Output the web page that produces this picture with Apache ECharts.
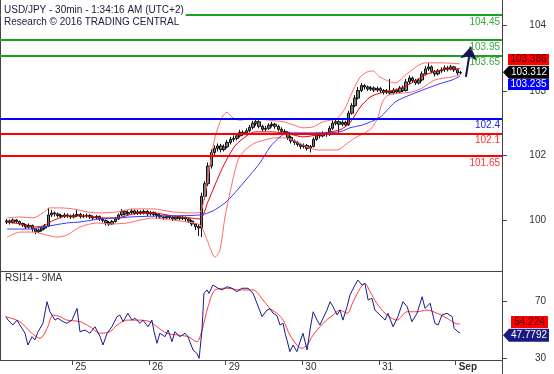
<!DOCTYPE html>
<html><head><meta charset="utf-8">
<script src="https://cdn.jsdelivr.net/npm/echarts@6/dist/echarts.min.js"></script>
<style>html,body{margin:0;padding:0;background:#fff}#c{width:554px;height:374px}</style>
</head><body><div id="c"></div>
<script>
// x unit: trading hours since 25 Aug 00:00 (UTC+2), weekend removed
const firstBarCenter = -20.5; // hourly bars
// [open, close, low, high]
const ohlc = [
[100.34,100.36,100.30,100.40],[100.36,100.33,100.29,100.39],[100.33,100.38,100.31,100.41],[100.38,100.35,100.32,100.40],
[100.35,100.31,100.27,100.37],[100.31,100.28,100.24,100.33],[100.28,100.24,100.20,100.30],[100.24,100.27,100.21,100.31],
[100.27,100.20,100.14,100.29],[100.20,100.15,100.10,100.22],[100.15,100.18,100.12,100.21],[100.18,100.22,100.15,100.25],
[100.22,100.26,100.19,100.30],[100.26,100.48,100.24,100.62],[100.48,100.52,100.44,100.58],[100.52,100.50,100.45,100.55],
[100.50,100.47,100.43,100.53],[100.47,100.45,100.41,100.50],[100.45,100.48,100.42,100.52],[100.48,100.46,100.42,100.51],
[100.46,100.44,100.40,100.49],[100.44,100.47,100.41,100.51],[100.47,100.49,100.44,100.58],[100.49,100.45,100.41,100.52],
[100.45,100.46,100.42,100.50],[100.46,100.47,100.42,100.51],[100.47,100.44,100.40,100.50],[100.44,100.42,100.38,100.47],
[100.42,100.45,100.39,100.48],[100.45,100.40,100.36,100.47],[100.40,100.37,100.33,100.43],[100.37,100.33,100.27,100.39],
[100.33,100.30,100.26,100.36],[100.30,100.35,100.28,100.38],[100.35,100.40,100.33,100.44],[100.40,100.48,100.38,100.51],
[100.48,100.55,100.45,100.60],[100.55,100.50,100.47,100.58],[100.50,100.53,100.47,100.57],[100.53,100.56,100.50,100.60],
[100.56,100.51,100.48,100.59],[100.51,100.54,100.48,100.58],[100.54,100.52,100.48,100.57],[100.52,100.55,100.49,100.59],
[100.55,100.50,100.46,100.58],[100.50,100.53,100.47,100.56],[100.53,100.49,100.45,100.55],[100.49,100.47,100.40,100.52],
[100.47,100.44,100.40,100.50],[100.44,100.42,100.38,100.47],[100.42,100.45,100.39,100.48],[100.45,100.43,100.39,100.48],
[100.43,100.40,100.36,100.46],[100.40,100.44,100.38,100.47],[100.44,100.41,100.37,100.46],[100.41,100.43,100.38,100.46],
[100.43,100.40,100.35,100.45],[100.40,100.36,100.32,100.43],[100.36,100.30,100.26,100.38],[100.30,100.25,100.18,100.32],
[100.25,100.22,100.06,100.30],[100.22,100.85,100.04,100.92],[100.85,101.10,100.78,101.15],[101.10,101.45,101.05,101.52],
[101.45,101.72,101.40,101.78],[101.72,101.80,101.66,101.86],[101.80,101.85,101.74,101.90],[101.85,101.78,101.72,101.89],
[101.78,101.83,101.74,101.88],[101.83,101.92,101.80,101.97],[101.92,101.98,101.88,102.03],[101.98,102.00,101.93,102.06],
[102.00,102.05,101.96,102.10],[102.05,102.12,102.02,102.17],[102.12,102.10,102.05,102.16],[102.10,102.15,102.06,102.20],
[102.15,102.22,102.12,102.27],[102.22,102.30,102.18,102.35],[102.30,102.33,102.25,102.40],[102.33,102.24,102.20,102.36],
[102.24,102.18,102.14,102.27],[102.18,102.20,102.14,102.25],[102.20,102.26,102.17,102.30],[102.26,102.28,102.22,102.33],
[102.28,102.24,102.19,102.31],[102.24,102.18,102.14,102.27],[102.18,102.14,102.10,102.22],[102.14,102.12,102.07,102.18],
[102.12,102.02,101.97,102.14],[102.02,101.95,101.90,102.05],[101.95,101.92,101.87,101.98],[101.92,101.88,101.84,101.95],
[101.88,101.84,101.79,101.91],[101.84,101.86,101.80,101.90],[101.86,101.80,101.76,101.89],[101.80,101.84,101.72,101.87],
[101.84,101.98,101.82,102.02],[101.98,102.08,101.95,102.12],[102.08,102.05,102.00,102.12],[102.05,102.10,102.02,102.14],
[102.10,102.08,102.03,102.13],[102.08,102.20,102.05,102.25],[102.20,102.30,102.17,102.36],[102.30,102.33,102.26,102.38],
[102.33,102.28,102.08,102.36],[102.28,102.32,102.24,102.36],[102.32,102.27,102.23,102.35],[102.27,102.50,102.25,102.55],
[102.50,102.65,102.47,102.70],[102.65,102.80,102.62,102.86],[102.80,102.95,102.77,103.02],[102.95,103.05,102.92,103.10],
[103.05,103.02,102.97,103.08],[103.02,102.98,102.94,103.05],[102.98,103.00,102.94,103.04],[103.00,102.96,102.92,103.03],
[102.96,102.99,102.92,103.03],[102.99,102.95,102.90,103.02],[102.95,102.92,102.87,102.98],[102.92,102.94,102.88,102.98],
[102.94,102.90,102.86,103.18],[102.90,102.96,102.87,103.00],[102.96,102.92,102.88,102.99],[102.92,103.00,102.90,103.04],
[103.00,102.95,102.92,103.05],[102.95,103.12,102.93,103.18],[103.12,103.20,103.08,103.25],[103.20,103.15,103.10,103.23],
[103.15,103.10,103.06,103.18],[103.10,103.16,103.07,103.20],[103.16,103.28,103.13,103.33],[103.28,103.38,103.25,103.44],
[103.38,103.42,103.34,103.50],[103.42,103.33,103.29,103.45],[103.33,103.28,103.23,103.36],[103.28,103.34,103.25,103.38],
[103.34,103.36,103.30,103.41],[103.36,103.40,103.32,103.45],[103.40,103.38,103.33,103.44],[103.38,103.42,103.35,103.46],
[103.42,103.36,103.32,103.44],[103.36,103.30,103.26,103.38],[103.30,103.31,103.27,103.34]
];
const bbUpper = [[-20.4,100.42],[-16.4,100.44],[-12.3,100.42],[-9.2,100.52],[-7.0,100.62],[-3.8,100.62],[0.2,100.60],[4.6,100.54],[8.7,100.52],[14.0,100.54],[19.0,100.60],[25.3,100.60],[31.5,100.54],[36.8,100.52],[40.0,100.54],[41.5,100.88],[43.1,101.47],[44.7,102.03],[46.9,102.42],[48.4,102.52],[50.0,102.42],[52.5,102.36],[55.6,102.40],[61.9,102.36],[66.0,102.33],[69.1,102.27],[72.2,102.21],[75.4,102.23],[78.5,102.33],[82.9,102.40],[85.4,102.60],[86.9,102.82],[90.1,103.22],[92.3,103.32],[94.1,103.34],[96.3,103.22],[101.0,103.10],[105.1,103.30],[110.4,103.50],[115.7,103.50],[121.4,103.48]];
const bbMid = [[-20.4,100.34],[-16.4,100.30],[-12.3,100.24],[-9.2,100.26],[-7.0,100.34],[-1.7,100.46],[4.6,100.46],[8.7,100.42],[14.0,100.42],[19.0,100.50],[25.3,100.52],[31.5,100.46],[36.8,100.42],[40.0,100.40],[42.5,100.75],[46.9,101.40],[50.9,101.85],[55.0,102.07],[57.2,102.13],[61.9,102.13],[66.0,102.11],[69.1,102.07],[72.2,102.03],[76.6,102.07],[80.7,102.13],[83.8,102.17],[86.9,102.31],[90.1,102.62],[93.2,102.82],[96.3,102.90],[101.0,102.96],[105.1,103.06],[110.4,103.26],[115.7,103.36],[121.4,103.386]];
const bbLower = [[-20.4,100.04],[-16.4,100.14],[-12.3,100.14],[-7.9,100.08],[-4.8,100.04],[-1.7,100.08],[2.4,100.24],[7.7,100.32],[11.8,100.30],[17.1,100.32],[25.3,100.42],[31.5,100.38],[35.9,100.34],[40.0,100.28],[42.2,99.98],[44.7,99.64],[46.2,99.78],[47.8,100.44],[50.0,101.11],[51.9,101.57],[54.1,101.77],[57.2,101.91],[60.3,101.97],[63.4,102.01],[66.6,102.01],[69.7,101.95],[72.2,101.87],[76.6,101.77],[82.9,101.77],[85.4,101.87],[88.5,102.01],[91.6,102.11],[93.8,102.21],[95.7,102.42],[96.9,102.70],[98.8,102.86],[103.2,102.90],[106.3,102.92],[109.5,103.00],[113.5,103.16],[118.9,103.22],[121.4,103.26]];
const trendMA = [[-20.4,100.20],[-13.2,100.20],[-9.2,100.24],[-1.7,100.32],[2.4,100.34],[8.7,100.40],[14.9,100.42],[18.1,100.44],[27.4,100.46],[40.0,100.48],[44.0,100.56],[47.8,100.72],[50.9,100.92],[55.6,101.27],[58.7,101.51],[61.9,101.83],[65.0,102.03],[67.2,102.11],[71.3,102.11],[76.6,102.11],[83.8,102.13],[86.9,102.21],[91.0,102.27],[96.3,102.42],[101.0,102.72],[104.1,102.82],[107.2,102.90],[111.3,103.00],[115.7,103.10],[118.9,103.16],[121.4,103.235]];
const rsi14 = [[-20.8,59.4],[-20.1,57],[-18.6,53.5],[-17.3,57],[-16.4,53.5],[-14.8,47.7],[-13.9,39.4],[-12.6,45.3],[-11.7,43],[-10.7,48.8],[-9.2,54.7],[-7.9,70],[-7.0,62.9],[-5.4,57],[-4.5,58.3],[-2.9,55.9],[-1.7,54.7],[-0.1,57],[1.5,65.3],[2.4,48.8],[4.0,50],[5.5,47.7],[7.1,52.3],[8.7,45.3],[9.6,39.4],[10.9,47.7],[12.4,52.3],[14.0,59.4],[14.9,60.6],[15.9,55.9],[17.4,61.8],[18.7,57],[19.6,58.3],[21.2,54.7],[22.1,57],[23.7,52.3],[24.9,57],[25.6,48.8],[26.5,40.6],[27.4,47.7],[29.0,45.3],[30.0,50],[31.2,41.7],[32.1,48.8],[33.7,45.3],[35.3,47.7],[36.2,45.3],[37.8,35.9],[39.0,33.5],[39.7,30],[40.6,50],[41.2,75.9],[42.2,78.3],[42.8,75.9],[44.0,81.8],[45.6,79.5],[46.9,78.3],[48.4,80.6],[50.0,79.5],[51.5,77.1],[53.1,79.5],[55.0,79.5],[56.6,75.9],[57.8,68.9],[59.4,59.4],[60.9,64.1],[61.9,65],[62.8,62],[64.1,60],[65.0,53.5],[66.0,54.7],[66.6,47.7],[67.2,42.9],[68.1,34.7],[69.1,39.4],[70.3,34.7],[71.3,41.7],[72.2,47.7],[73.5,35.9],[74.4,50],[75.4,62.9],[76.6,57],[77.5,53.5],[78.5,58.3],[79.7,64.1],[80.7,70],[81.6,66.5],[82.9,60.6],[83.8,64.1],[84.7,57],[86.0,66.5],[86.9,74.7],[88.5,81.8],[89.4,85.3],[90.7,81.8],[91.6,82.9],[92.6,71.2],[93.8,72.4],[94.7,64.1],[96.3,60.6],[97.9,57],[98.8,61.8],[100.4,52.3],[101.9,59.4],[103.5,70],[104.8,66.5],[106.3,55.9],[107.9,61.8],[109.5,73.5],[110.4,65.3],[112.0,68.9],[113.5,54.7],[114.5,53.5],[115.7,60.6],[117.3,61.8],[118.9,59.4],[119.5,51.2],[120.7,48.8],[121.4,47.7792]];
const rsiMA9 = [[-20.8,59.4],[-16.4,55.9],[-13.2,48.8],[-10.1,44.1],[-7.9,51.2],[-6.0,60.6],[-3.8,59.4],[-1.7,57],[2.4,55.9],[5.5,52.3],[8.7,47.7],[11.8,48.8],[14.0,53.5],[17.1,57],[21.2,57],[24.3,55.9],[26.5,52.3],[29.6,47.7],[32.8,46.5],[36.2,45.3],[39.0,41.7],[40.6,50],[42.5,66.5],[44.7,78.3],[48.4,79.5],[52.5,78.3],[56.6,78.3],[59.7,71.2],[62.2,64.5],[64.1,61.8],[66.0,57],[68.1,46.5],[70.3,39.4],[71.9,37.1],[73.5,39.4],[75.4,46.5],[78.5,54.7],[81.6,60.6],[83.8,64.1],[86.0,61.8],[87.9,70],[90.1,79.5],[91.6,82.9],[93.2,77.1],[95.3,68.9],[97.9,61.8],[101.6,57],[104.8,62.9],[107.9,62.9],[111.0,64.1],[114.2,61.8],[117.3,58.3],[119.8,54.7],[121.4,54.224]];
const resistanceLevels = [104.45, 103.95, 103.65];
const pivotLevels = [102.4];
const supportLevels = [102.1, 101.65];
const projection = [[123.2, 103.22], [124.7, 103.82]];
const lastClose = 103.312, lastBbMid = 103.386, lastTrend = 103.235;
const lastRsi = 47.7792, lastRsiMA = 54.224;
const dayTicks = [0, 24, 48, 72, 96, 120];
const dayLabels = ['25', '26', '29', '30', '31', 'Sep'];
const priceTicks = [104.25, 102.94, 101.66, 100.38];
const priceTickLabels = ['104', '103', '102', '100'];
const rsiTicks = [30, 70];

const X_MIN = -22.63, X_MAX = 134.5;
const P_MIN = 99.367, P_MAX = 104.748;
const R_MIN = 28.8, R_MAX = 91.7;
const FONT = 'Liberation Sans, Arial, sans-serif';

const candles = ohlc.map((r, i) => [firstBarCenter + i, r[0], r[1], r[2], r[3]]);
const lookup = (vals, labels) => v => {
  for (let i = 0; i < vals.length; i++) if (Math.abs(vals[i] - v) < 1e-6) return labels[i];
  return '';
};
function levelItem(v, lineColor, textColor) {
  return { yAxis: v, lineStyle: { color: lineColor, width: 2, type: 'solid' },
    label: { show: true, position: 'insideEndBottom', formatter: String(v), color: textColor,
      fontSize: 10, fontFamily: FONT, distance: [2, 2] } };
}
const levelData = [].concat(
  resistanceLevels.map(v => levelItem(v, '#1f9f1f', '#3aa83a')),
  pivotLevels.map(v => levelItem(v, '#0000ff', '#2020e0')),
  supportLevels.map(v => levelItem(v, '#ff0000', '#ff3030'))
);
const boxLabel = (bg, fg, dx, dy, size, sym, lx) => ({
  symbol: sym, symbolSize: size, symbolOffset: [dx, dy], symbolKeepAspect: false,
  itemStyle: { color: bg },
  label: { show: true, position: 'inside', color: fg, fontSize: 10, fontFamily: FONT, offset: [lx || 0, 0],
    formatter: p => String(p.value) }
});
const pointer = 'path://M0,6L6,0L46,0L46,12L6,12Z';
const line = (data, color, xi, yi, extra) => Object.assign({
  type: 'line', data, xAxisIndex: xi, yAxisIndex: yi, symbol: 'none', showSymbol: false,
  smooth: 0.25, lineStyle: { color, width: 1 }, clip: false, silent: true
}, extra || {});

const chart = echarts.init(document.getElementById('c'), null, { renderer: 'canvas' });
chart.setOption({
  animation: false,
  backgroundColor: '#fff',
  title: [
    { text: 'USD/JPY - 30min - 1:34:16 AM (UTC+2)\nResearch © 2016 TRADING CENTRAL', left: 1, top: 3,
      backgroundColor: '#fff', padding: [1, 2, 1, 3],
      textStyle: { fontSize: 10, fontWeight: 'normal', color: '#202040', fontFamily: FONT, lineHeight: 12 } },
    { text: 'RSI14 - 9MA', left: 2, top: 272, padding: [1, 3],
      textStyle: { fontSize: 10, fontWeight: 'normal', color: '#333', fontFamily: FONT } }
  ],
  grid: [
    { left: 0, right: 52, top: 0, height: 271 },
    { left: 0, right: 52, top: 271, height: 89 }
  ],
  xAxis: [
    { type: 'value', gridIndex: 0, min: X_MIN, max: X_MAX, axisLine: { show: true, onZero: false, lineStyle: { color: '#444' } },
      axisTick: { show: false }, axisLabel: { show: false }, splitLine: { show: false } },
    { type: 'value', gridIndex: 1, min: X_MIN, max: X_MAX, axisLine: { show: true, onZero: false, lineStyle: { color: '#444' } },
      axisTick: { show: true, customValues: dayTicks, length: 5, lineStyle: { color: '#444' } },
      axisLabel: { show: true, customValues: dayTicks, formatter: v => { const s = lookup(dayTicks, dayLabels)(v); return s === 'Sep' ? '{b|Sep}' : s; },
        align: 'left', padding: [0, 0, 0, 3], margin: 2, fontSize: 10, color: '#333', fontFamily: FONT,
        rich: { b: { fontWeight: 'bold', fontSize: 10, color: '#333', fontFamily: FONT } } },
      splitLine: { show: false } }
  ],
  yAxis: [
    { type: 'value', gridIndex: 0, position: 'right', min: P_MIN, max: P_MAX,
      axisLine: { show: true, onZero: false, lineStyle: { color: '#444' } },
      axisTick: { show: true, customValues: priceTicks, length: 5, lineStyle: { color: '#444' } },
      axisLabel: { show: true, customValues: priceTicks, formatter: lookup(priceTicks, priceTickLabels),
        align: 'right', margin: 44, fontSize: 10, color: '#333', fontFamily: FONT },
      splitLine: { show: false } },
    { type: 'value', gridIndex: 0, position: 'left', min: P_MIN, max: P_MAX,
      axisLine: { show: true, onZero: false, lineStyle: { color: '#444' } }, axisTick: { show: false },
      axisLabel: { show: false }, splitLine: { show: false } },
    { type: 'value', gridIndex: 1, position: 'right', min: R_MIN, max: R_MAX,
      axisLine: { show: true, onZero: false, lineStyle: { color: '#444' } },
      axisTick: { show: true, customValues: rsiTicks, length: 5, lineStyle: { color: '#444' } },
      axisLabel: { show: true, customValues: rsiTicks, align: 'right', margin: 44, fontSize: 10, color: '#333', fontFamily: FONT },
      splitLine: { show: false } },
    { type: 'value', gridIndex: 1, position: 'left', min: R_MIN, max: R_MAX,
      axisLine: { show: true, onZero: false, lineStyle: { color: '#444' } }, axisTick: { show: false },
      axisLabel: { show: false }, splitLine: { show: false } }
  ],
  series: [
    { type: 'candlestick', name: 'USD/JPY', xAxisIndex: 0, yAxisIndex: 0, data: candles, barWidth: 3, silent: true,
      itemStyle: { color: '#7a7a7a', color0: '#7a7a7a', borderColor: '#111', borderColor0: '#111', borderWidth: 1 },
      markLine: { silent: true, symbol: 'none', animation: false, data: levelData } },
    line(bbUpper, '#ff6a6a', 0, 0),
    line(bbLower, '#ff6a6a', 0, 0),
    line(bbMid, '#e80000', 0, 0),
    line(trendMA, '#3a3aff', 0, 0, {
      markLine: { silent: true, animation: false, symbol: ['none', 'arrow'], symbolSize: 13,
        lineStyle: { color: '#141450', width: 2, type: 'solid' }, label: { show: false },
        data: [[{ coord: projection[0] }, { coord: projection[1] }]] },
      markPoint: { silent: true, animation: false, data: [
        Object.assign({ coord: [X_MAX - 0.1, lastBbMid], value: lastBbMid }, boxLabel('#ff0000', '#400000', 26.8, -9, [41, 11], 'rect')),
        Object.assign({ coord: [X_MAX - 0.1, lastClose], value: lastClose }, boxLabel('#000000', '#ffffff', 24.3, 0, [46, 13], pointer, 3)),
        Object.assign({ coord: [X_MAX - 0.1, lastTrend], value: lastTrend }, boxLabel('#0000ff', '#ffffff', 26.8, 8.3, [41, 11], 'rect'))
      ] } }),
    line(rsiMA9, '#ff3a3a', 1, 2, { smooth: 0.3 }),
    line(rsi14, '#1a1a8c', 1, 2, { smooth: 0, markPoint: { silent: true, animation: false, data: [
        Object.assign({ coord: [X_MAX - 0.1, lastRsiMA], value: lastRsiMA }, boxLabel('#ff0000', '#400000', 27.8, -2, [37, 12], 'rect')),
        Object.assign({ coord: [X_MAX - 0.1, lastRsi], value: lastRsi }, boxLabel('#1a1a80', '#ffffff', 24.3, 2, [46, 13], pointer, 3))
      ] } })
  ],
  graphic: [
    { type: 'line', silent: true, shape: { x1: 502.5, y1: 360, x2: 502.5, y2: 374 }, style: { stroke: '#444', lineWidth: 1 } }
  ]
});
</script></body></html>
